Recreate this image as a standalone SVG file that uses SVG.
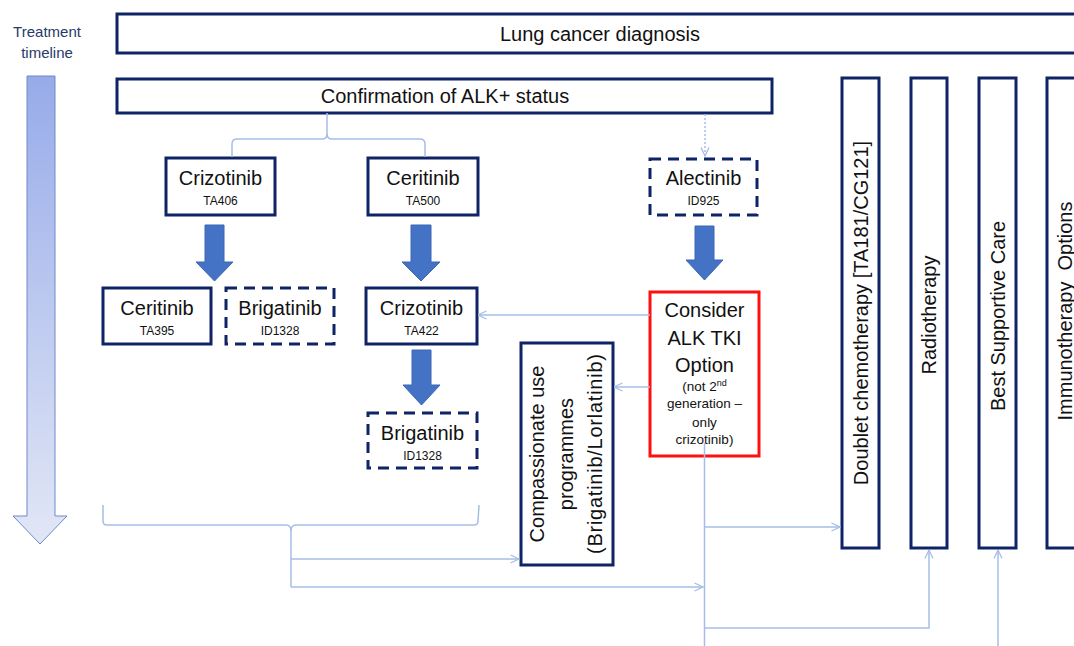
<svg xmlns="http://www.w3.org/2000/svg" width="1074" height="646" viewBox="0 0 1074 646">
<defs>
  <linearGradient id="tl" x1="0" y1="0" x2="0" y2="1">
    <stop offset="0" stop-color="#97abe9"/>
    <stop offset="1" stop-color="#e2e7f6"/>
  </linearGradient>
  <marker id="ah" viewBox="0 0 10 10" refX="9.5" refY="5" markerWidth="10" markerHeight="10" markerUnits="userSpaceOnUse" orient="auto">
    <path d="M1,1 L9.5,5 L1,9" fill="none" stroke="#a7bde8" stroke-width="1.3"/>
  </marker>
</defs>
<style>
  text { font-family: "Liberation Sans", Arial, sans-serif; fill: #111; }
  .box { fill: #fff; stroke: #0f2466; stroke-width: 3; }
  .dash { fill: #fff; stroke: #0f2466; stroke-width: 3; stroke-dasharray: 11 7; }
  .red { fill: #fff; stroke: #ff1010; stroke-width: 3; }
  .big { font-size: 20px; text-anchor: middle; }
  .sub { font-size: 12px; text-anchor: middle; }
  .sm { font-size: 13.5px; text-anchor: middle; }
  .con { fill: none; stroke: #a7bde8; stroke-width: 1.5; }
  .thick { fill: #4472c4; stroke: #3d67b5; stroke-width: 1; }
  .tl { font-size: 15px; text-anchor: middle; fill: #283a68; }
</style>

<g id="timeline">
  <text class="tl" x="47" y="37">Treatment</text>
  <text class="tl" x="47" y="58">timeline</text>
  <path d="M27,76 L55,76 L55,516 L67,516 L40,544 L13,516 L27,516 Z" fill="url(#tl)" stroke="#7189c9" stroke-width="1"/>
</g>

<g id="lung-cancer-diagnosis">
  <rect class="box" x="117" y="14" width="970" height="39"/>
  <text class="big" x="600" y="41">Lung cancer diagnosis</text>
</g>

<g id="confirmation">
  <rect class="box" x="117" y="79" width="655" height="34"/>
  <text class="big" x="445" y="103">Confirmation of ALK+ status</text>
</g>

<g id="crizotinib-ta406">
  <rect class="box" x="166" y="158" width="109" height="57"/>
  <text class="big" x="220.5" y="185">Crizotinib</text>
  <text class="sub" x="220.5" y="205">TA406</text>
</g>

<g id="ceritinib-ta500">
  <rect class="box" x="368" y="158" width="110" height="57"/>
  <text class="big" x="423" y="185">Ceritinib</text>
  <text class="sub" x="423" y="205">TA500</text>
</g>

<g id="alectinib-id925">
  <rect class="dash" x="650" y="159" width="107" height="56"/>
  <text class="big" x="703.5" y="185">Alectinib</text>
  <text class="sub" x="703.5" y="205">ID925</text>
</g>

<g id="ceritinib-ta395">
  <rect class="box" x="103" y="288" width="108" height="56"/>
  <text class="big" x="157" y="315">Ceritinib</text>
  <text class="sub" x="157" y="335">TA395</text>
</g>

<g id="brigatinib-id1328-a">
  <rect class="dash" x="226" y="288" width="108" height="56"/>
  <text class="big" x="280" y="315">Brigatinib</text>
  <text class="sub" x="280" y="335">ID1328</text>
</g>

<g id="crizotinib-ta422">
  <rect class="box" x="366" y="288" width="111" height="56"/>
  <text class="big" x="421.5" y="315">Crizotinib</text>
  <text class="sub" x="421.5" y="335">TA422</text>
</g>

<g id="brigatinib-id1328-b">
  <rect class="dash" x="368" y="413" width="109" height="55"/>
  <text class="big" x="422.5" y="440">Brigatinib</text>
  <text class="sub" x="422.5" y="460">ID1328</text>
</g>

<g id="consider-alk-tki">
  <rect class="red" x="650" y="292" width="109" height="164"/>
  <text class="big" x="704.5" y="317">Consider</text>
  <text class="big" x="704.5" y="345">ALK TKI</text>
  <text class="big" x="704.5" y="372">Option</text>
  <text class="sm" x="704.5" y="391">(not 2<tspan font-size="9" dy="-5">nd</tspan></text>
  <text class="sm" x="704.5" y="408">generation –</text>
  <text class="sm" x="704.5" y="427">only</text>
  <text class="sm" x="704.5" y="444">crizotinib)</text>
</g>

<g id="compassionate-use">
  <rect class="box" x="521" y="343" width="92" height="222"/>
  <g transform="rotate(-90 567 454)">
    <text class="big" x="567" y="431">Compassionate use</text>
    <text class="big" x="567" y="460">programmes</text>
    <text class="big" x="567" y="489" textLength="200" lengthAdjust="spacing">(Brigatinib/Lorlatinib)</text>
  </g>
</g>

<g id="doublet-chemotherapy">
  <rect class="box" x="842" y="78" width="37" height="470"/>
  <text class="big" transform="rotate(-90 860.5 313)" x="860.5" y="320">Doublet chemotherapy [TA181/CG121]</text>
</g>

<g id="radiotherapy">
  <rect class="box" x="911" y="78" width="36" height="470"/>
  <text class="big" transform="rotate(-90 929 315)" x="929" y="322">Radiotherapy</text>
</g>

<g id="best-supportive-care">
  <rect class="box" x="979" y="78" width="37" height="470"/>
  <text class="big" transform="rotate(-90 997.5 316)" x="997.5" y="323">Best Supportive Care</text>
</g>

<g id="immunotherapy-options">
  <rect class="box" x="1047" y="78" width="40" height="470"/>
  <text class="big" transform="rotate(-90 1065 311)" x="1065" y="318" style="white-space:pre">Immunotherapy  Options</text>
</g>

<g id="connectors">
  <path class="thick" d="M205,225 L224,225 L224,262 L233,262 L214.5,281 L196,262 L205,262 Z"/>
  <path class="thick" d="M411,225 L431,225 L431,262 L440,262 L421,281 L402,262 L411,262 Z"/>
  <path class="thick" d="M695,226 L714,226 L714,260 L723,260 L704.5,280 L686,260 L695,260 Z"/>
  <path class="thick" d="M412,350 L431,350 L431,385 L440,385 L421.5,405 L403,385 L412,385 Z"/>

  <path class="con" d="M232,157 L232,144 Q232,139 237,139 L322,139 Q327,139 327,134 L327,113"/>
  <path class="con" d="M327,134 Q327,139 332,139 L420,139 Q425,139 425,144 L425,157"/>

  <path class="con" d="M705,114 L705,156" stroke-dasharray="2 2" marker-end="url(#ah)"/>

  <path class="con" d="M650,315 L478,315" marker-end="url(#ah)"/>
  <path class="con" d="M650,387 L614,387" marker-end="url(#ah)"/>

  <path class="con" d="M704.5,443 L704.5,646"/>
  <path class="con" d="M704.5,527 L840,527" marker-end="url(#ah)"/>
  <path class="con" d="M704.5,628 L929,628 L929,550" marker-end="url(#ah)"/>
  <path class="con" d="M998,646 L998,550" marker-end="url(#ah)"/>

  <path class="con" d="M103,505 L103,521 Q103,525 107,525 L286,525 Q291,525 291,531 L291,587"/>
  <path class="con" d="M291,531 Q291,525 296,525 L474,525 Q478,525 478,521 L479,505"/>
  <path class="con" d="M291,559 L519,559" marker-end="url(#ah)"/>
  <path class="con" d="M291,587 L703,587" marker-end="url(#ah)"/>
</g>
</svg>
